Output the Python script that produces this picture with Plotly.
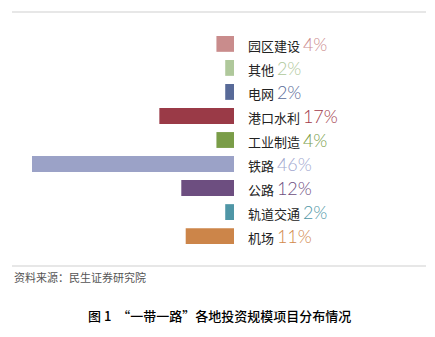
import plotly.graph_objects as go

categories = ["园区建设", "其他", "电网", "港口水利", "工业制造", "铁路", "公路", "轨道交通", "机场"]
values = [4, 2, 2, 17, 4, 46, 12, 2, 11]
bar_colors = ["#C98C8C", "#AFC89B", "#586A98", "#9A3A47", "#7A9D48",
              "#9BA2C7", "#6D4E80", "#4F96A6", "#CC8549"]
text_colors = ["#CC8C8E", "#AFC89B", "#586A98", "#A23A4A", "#7A9D48",
               "#A2A8CF", "#6D4E80", "#4F96A6", "#D2894C"]
pct_labels = [f"{v}%" for v in values]
source_text = "资料来源：民生证券研究院"
title_text = "图 1  “一带一路”各地投资规模项目分布情况"

W, H = 435, 337
fig = go.Figure()
fig.add_trace(go.Bar(
    x=values, y=categories, orientation="h",
    marker=dict(color=bar_colors, line=dict(width=0)),
    hoverinfo="skip",
))

cjk = "Noto Sans CJK SC"
for cat, lab, col in zip(categories, pct_labels, text_colors):
    fig.add_annotation(
        x=0, y=cat, xref="x", yref="y", xanchor="left", yanchor="middle",
        xshift=12, showarrow=False,
        text=f"{cat} <span style='color:{col};font-size:18px;font-family:Lato;font-weight:300'>{lab}</span>",
        font=dict(family=cjk, size=13, color="#222222"),
    )

fig.update_layout(
    width=W, height=H,
    margin=dict(l=0, r=0, t=0, b=0),
    paper_bgcolor="white", plot_bgcolor="white",
    showlegend=False,
    bargap=0.34,
    xaxis=dict(range=[46, 0], domain=[32 / W, 234 / W], visible=False, fixedrange=True),
    yaxis=dict(categoryorder="array", categoryarray=categories, autorange="reversed",
               domain=[1 - 249.1 / H, 1 - 30.9 / H], visible=False),
    shapes=[
        dict(type="line", xref="paper", yref="paper", x0=12 / W, x1=426 / W,
             y0=1 - 12 / H, y1=1 - 12 / H, line=dict(color="#cfcfcf", width=1)),
        dict(type="line", xref="paper", yref="paper", x0=12 / W, x1=426 / W,
             y0=1 - 266 / H, y1=1 - 266 / H, line=dict(color="#cfcfcf", width=1)),
    ],
    annotations=list(fig.layout.annotations) + [
        dict(x=12 / W, y=1 - 277 / H, xref="paper", yref="paper", xanchor="left",
             yanchor="middle", showarrow=False, text=source_text,
             font=dict(family=cjk, size=11, color="#555555")),
        dict(x=219 / W, y=1 - 315 / H, xref="paper", yref="paper", xanchor="center",
             yanchor="middle", showarrow=False, text=title_text,
             font=dict(family=cjk, size=13, color="#000000", weight=500)),
    ],
)
fig.write_html("out.html")
